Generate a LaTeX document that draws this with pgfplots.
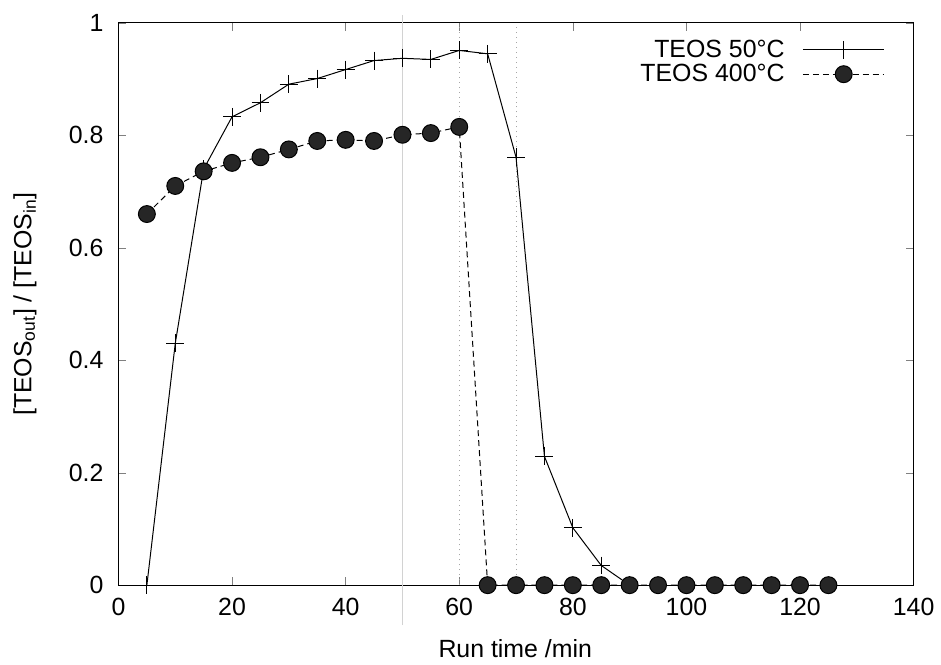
\documentclass[border=0pt]{standalone}
\usepackage{fontspec}
\setmainfont{Liberation Sans}
\usepackage{pgfplots}
\pgfplotsset{compat=1.18}
\newcommand{\fs}{\fontsize{12.5}{15}\selectfont}
\begin{document}
\begin{tikzpicture}
\begin{axis}[
  width=399.5pt, height=282.5pt, scale only axis,
  xmin=0, xmax=140, ymin=0, ymax=1,
  xtick={0,20,...,140}, ytick={0,0.2,...,1},
  tick pos=both, tick align=inside,
  major tick length=4pt,
  /pgf/number format/assume math mode=true,
  tick label style={font=\fs},
  xticklabel style={yshift=-3pt},
  yticklabel style={xshift=-4pt},
  label style={font=\fs},
  xlabel={Run time /min},
  ylabel={[TEOS\textsubscript{out}] / [TEOS\textsubscript{in}]},
  xlabel style={at={(axis description cs:0.499,-0.113)}, anchor=center},
  ylabel style={at={(axis description cs:-0.1176,0.5)}, anchor=center},
  clip=false,
  axis line style={line width=0.6pt},
  legend style={draw=none, fill=none, font=\fs, legend cell align=right,
    at={(axis description cs:0.972,0.985)}, anchor=north east,
    row sep=-2pt, column sep=7pt},
  legend plot pos=right,
  legend image code/.code={\draw[mark repeat=2,mark phase=2] plot coordinates {(0cm,0cm) (0.72cm,0cm) (1.44cm,0cm)};},
]
\draw[gray!35, line width=0.5pt] (axis cs:50,-0.071) -- (axis cs:50,1.014);
\draw[gray!70, dotted, line width=0.5pt] (axis cs:60,0) -- (axis cs:60,1);
\draw[gray!70, dotted, line width=0.5pt] (axis cs:70,0) -- (axis cs:70,1);
\addplot[black, line width=0.5pt, mark=+, mark size=4.5pt, mark options={line width=0.5pt}] coordinates {
(5,0) (10,0.43) (15,0.74) (20,0.833) (25,0.858) (30,0.891) (35,0.901) (40,0.917)
(45,0.933) (50,0.937) (55,0.935) (60,0.951) (65,0.945) (70,0.761) (75,0.229)
(80,0.102) (85,0.035) (90,0)
};
\addlegendentry{TEOS 50°C}
\addplot[black, line width=0.5pt, dash pattern=on 3pt off 2pt, mark=*, mark size=4.25pt, mark options={solid, fill=black!85, draw=black}] coordinates {
(5,0.660) (10,0.710) (15,0.736) (20,0.751) (25,0.761) (30,0.775) (35,0.790) (40,0.792)
(45,0.790) (50,0.801) (55,0.804) (60,0.815) (65,0) (70,0) (75,0) (80,0) (85,0)
(90,0) (95,0) (100,0) (105,0) (110,0) (115,0) (120,0) (125,0)
};
\addlegendentry{TEOS 400°C}
\path (rel axis cs:-0.149,-0.140) rectangle (rel axis cs:1.0288,1.0407);
\end{axis}
\end{tikzpicture}
\end{document}
